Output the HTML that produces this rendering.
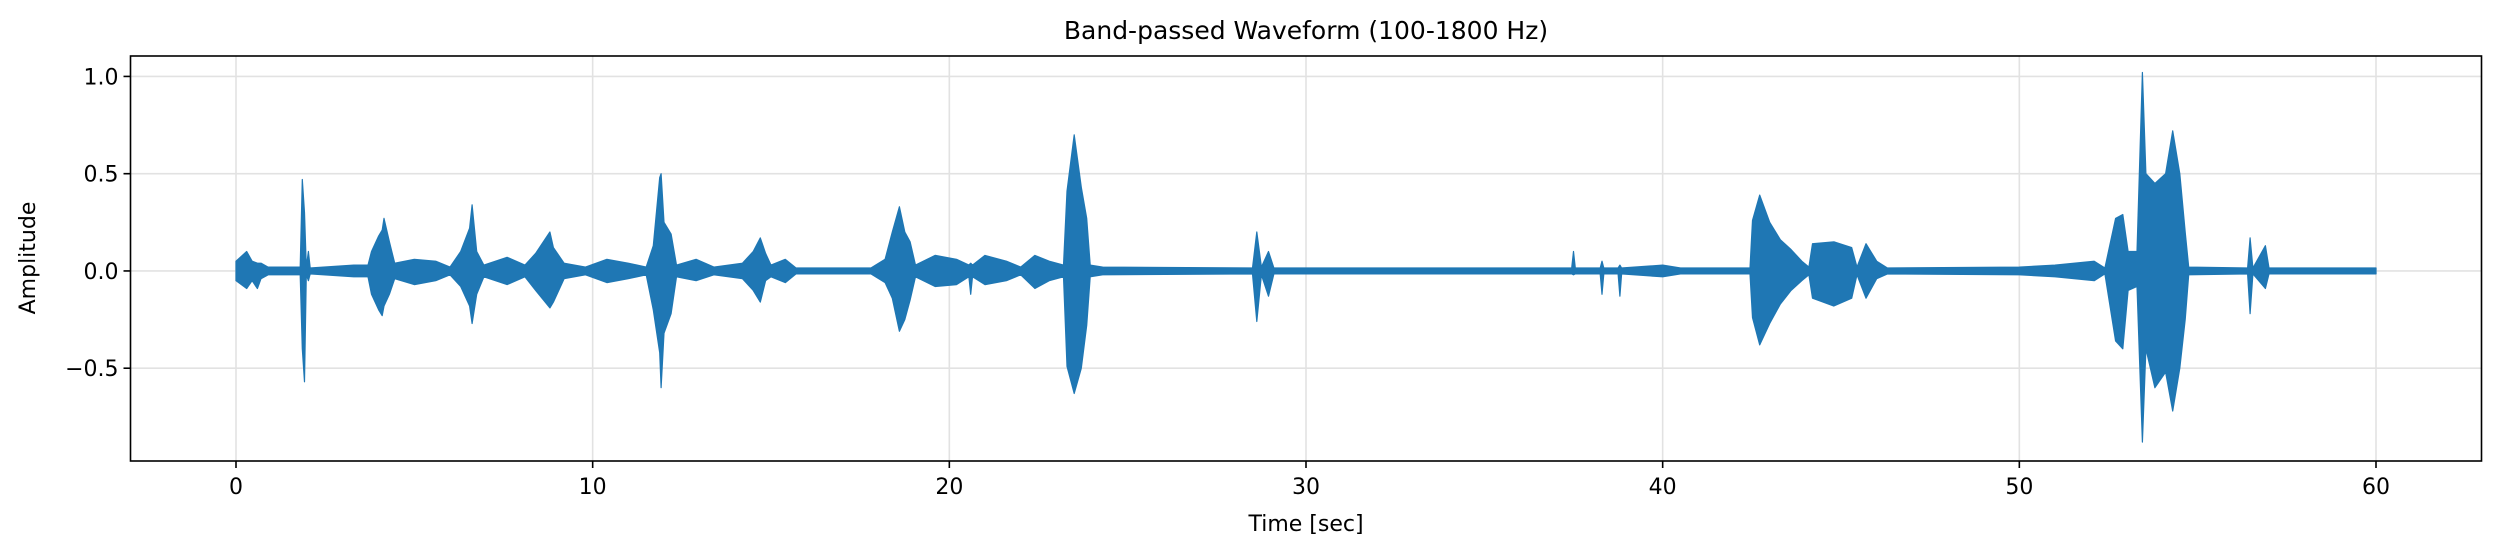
<!DOCTYPE html>
<html><head><meta charset="utf-8"><style>
body{margin:0;background:#fff}
svg text{font-family:"DejaVu Sans","Liberation Sans",sans-serif;fill:#000}
</style></head><body>
<svg id="chart" width="2500" height="555" viewBox="0 0 2500 555" xmlns="http://www.w3.org/2000/svg">
<rect width="2500" height="555" fill="#fff"/>
<g id="grid"></g>
<g id="plot"></g>
<rect x="130.5" y="56" width="2351" height="405" fill="none" stroke="#000" stroke-width="1.6"/>
<g id="ticks"></g>
<text x="1306" y="39" font-size="25" text-anchor="middle">Band-passed Waveform (100-1800 Hz)</text>
<text x="1306" y="531" font-size="22" text-anchor="middle">Time [sec]</text>
<text x="0" y="0" font-size="22" text-anchor="middle" transform="translate(35,258) rotate(-90)">Amplitude</text>
</svg>
<script>
const times = [0,0.3,0.45,0.6,0.7,0.9,1.8,1.86,1.92,1.97,2.03,2.08,3.3,3.7,3.8,4.0,4.1,4.15,4.3,4.45,5.0,5.6,6.0,6.3,6.55,6.62,6.75,6.95,7.6,8.1,8.4,8.8,8.9,9.2,9.8,10.4,11.0,11.5,11.7,11.88,11.92,12.0,12.2,12.35,12.9,13.4,14.2,14.5,14.7,14.85,15.0,15.4,15.7,17.8,18.2,18.4,18.6,18.75,18.9,19.05,19.6,20.2,20.55,20.6,20.65,21.0,21.6,22.0,22.4,22.8,23.2,23.3,23.5,23.7,23.85,23.95,24.3,28.5,28.62,28.75,28.95,29.1,37.45,37.5,37.55,38.25,38.3,38.35,38.75,38.8,38.85,40.0,40.5,42.45,42.52,42.72,43.0,43.3,43.6,43.9,44.1,44.2,44.8,45.3,45.45,45.7,46.0,46.3,50.0,51.0,52.1,52.4,52.7,52.9,53.05,53.3,53.45,53.55,53.8,54.1,54.3,54.5,54.65,54.75,56.4,56.47,56.55,56.9,57.0,60];
const upper = [0.05,0.1,0.05,0.04,0.04,0.02,0.02,0.47,0.3,0.02,0.1,0.015,0.03,0.03,0.1,0.18,0.21,0.27,0.15,0.04,0.06,0.05,0.02,0.1,0.22,0.34,0.1,0.03,0.07,0.03,0.09,0.2,0.12,0.04,0.02,0.06,0.04,0.02,0.13,0.48,0.5,0.25,0.19,0.03,0.06,0.02,0.04,0.1,0.17,0.09,0.03,0.06,0.015,0.015,0.06,0.2,0.33,0.2,0.15,0.03,0.08,0.06,0.03,0.04,0.03,0.08,0.05,0.02,0.08,0.05,0.03,0.41,0.7,0.43,0.27,0.03,0.02,0.015,0.2,0.02,0.1,0.015,0.015,0.1,0.015,0.015,0.05,0.015,0.015,0.03,0.015,0.03,0.015,0.015,0.26,0.39,0.25,0.16,0.11,0.05,0.02,0.14,0.15,0.12,0.02,0.14,0.05,0.015,0.02,0.03,0.05,0.015,0.27,0.29,0.1,0.1,1.02,0.5,0.45,0.5,0.72,0.5,0.2,0.02,0.015,0.17,0.015,0.13,0.015,0.015];
const lower = [-0.05,-0.09,-0.05,-0.09,-0.04,-0.02,-0.02,-0.4,-0.57,-0.02,-0.05,-0.015,-0.03,-0.03,-0.12,-0.2,-0.23,-0.18,-0.12,-0.04,-0.07,-0.05,-0.02,-0.08,-0.18,-0.27,-0.12,-0.03,-0.07,-0.03,-0.1,-0.19,-0.16,-0.04,-0.02,-0.06,-0.04,-0.02,-0.2,-0.42,-0.6,-0.32,-0.22,-0.03,-0.05,-0.02,-0.04,-0.1,-0.16,-0.05,-0.03,-0.06,-0.015,-0.015,-0.06,-0.14,-0.31,-0.25,-0.15,-0.03,-0.08,-0.07,-0.03,-0.12,-0.03,-0.07,-0.05,-0.02,-0.09,-0.05,-0.03,-0.49,-0.63,-0.5,-0.28,-0.03,-0.02,-0.015,-0.26,-0.02,-0.13,-0.015,-0.015,-0.02,-0.015,-0.015,-0.12,-0.015,-0.015,-0.13,-0.015,-0.03,-0.015,-0.015,-0.24,-0.38,-0.27,-0.17,-0.1,-0.05,-0.02,-0.14,-0.18,-0.14,-0.02,-0.14,-0.04,-0.015,-0.02,-0.03,-0.05,-0.015,-0.36,-0.4,-0.1,-0.08,-0.88,-0.4,-0.6,-0.52,-0.72,-0.5,-0.25,-0.02,-0.015,-0.22,-0.015,-0.09,-0.015,-0.015];
const xTicks = [0,10,20,30,40,50,60];
const yTicks = [-0.5,0.0,0.5,1.0];
const yTickLabels = ["\u22120.5","0.0","0.5","1.0"];

const NS="http://www.w3.org/2000/svg";
const X0=130.5,X1=2481.5,Y0=56,Y1=461;
const x0px=236,x60px=2376;
const xPer=(x60px-x0px)/60;
const xMin=-(x0px-X0)/xPer,xMax=(X1-x0px)/xPer;
const yMin=-0.977,yMax=1.105;
function sx(t){return X0+(t-xMin)/(xMax-xMin)*(X1-X0);}
function sy(v){return Y1-(v-yMin)/(yMax-yMin)*(Y1-Y0);}
function mk(tag,attrs,parent){const e=document.createElementNS(NS,tag);for(const k in attrs)e.setAttribute(k,attrs[k]);parent.appendChild(e);return e;}
const grid=document.getElementById('grid'),ticks=document.getElementById('ticks'),plot=document.getElementById('plot');
xTicks.forEach(t=>{
  const g=mk('line',{x1:sx(t),x2:sx(t),y1:Y0,y2:Y1,stroke:'#e2e2e2','stroke-width':1.6},grid);
  
  
  const tk=mk('line',{x1:sx(t),x2:sx(t),y1:Y1,y2:Y1+7,stroke:'#000','stroke-width':1.6},ticks);
  
  
  const lb=mk('text',{x:sx(t),y:Y1+33,'font-size':22,'text-anchor':'middle'},ticks);
  lb.textContent=String(t);
  
  
});
yTicks.forEach((v,i)=>{
  const g=mk('line',{x1:X0,x2:X1,y1:sy(v),y2:sy(v),stroke:'#e2e2e2','stroke-width':1.6},grid);
  
  
  const tk=mk('line',{x1:X0-7,x2:X0,y1:sy(v),y2:sy(v),stroke:'#000','stroke-width':1.6},ticks);
  
  
  const lb=mk('text',{x:X0-12,y:sy(v)+8,'font-size':22,'text-anchor':'end'},ticks);
  lb.textContent=yTickLabels[i];
  
  
});
const n=Math.min(times.length,upper.length,lower.length);
let d='M'+sx(times[0]).toFixed(1)+','+sy(upper[0]).toFixed(1);
for(let i=1;i<n;i++)d+=' L'+sx(times[i]).toFixed(1)+','+sy(upper[i]).toFixed(1);
for(let i=n-1;i>=0;i--)d+=' L'+sx(times[i]).toFixed(1)+','+sy(lower[i]).toFixed(1);
d+=' Z';
const wave=mk('path',{d:d,fill:'#1f77b4',stroke:'#1f77b4','stroke-width':1.2,'stroke-linejoin':'round'},plot);


</script>
</body></html>
